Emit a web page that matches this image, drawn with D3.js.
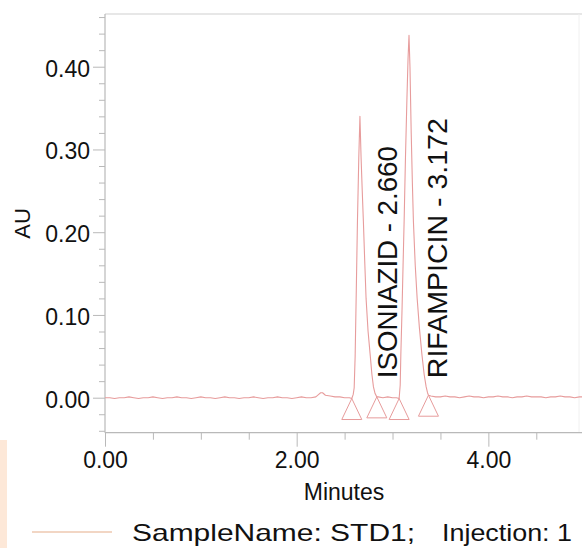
<!DOCTYPE html>
<html><head><meta charset="utf-8">
<script src="https://cdn.jsdelivr.net/npm/d3@7"></script>
<style>
body{margin:0;background:#fff}
svg{display:block}
text{font-family:"Liberation Sans",Arial,sans-serif;fill:#111}
</style>
</head><body><svg id="c" width="582" height="548"></svg>
<script>
// ---- data ----
const timeMin = [
  0.00,0.05,0.10,0.15,0.20,0.25,0.30,0.35,0.40,0.45,0.50,0.55,0.60,0.65,0.70,0.75,0.80,0.85,0.90,0.95,
  1.00,1.05,1.10,1.15,1.20,1.25,1.30,1.35,1.40,1.45,1.50,1.55,1.60,1.65,1.70,1.75,1.80,1.85,1.90,1.95,
  2.00,2.05,2.10,2.15,2.20,2.23,2.25,2.27,2.30,2.35,2.40,2.45,2.50,2.55,2.575,
  2.590,2.600,2.610,2.622,2.634,2.648,2.660,2.672,2.684,2.696,2.710,2.724,2.745,2.766,2.785,2.801,2.818,2.836,
  2.85,2.90,2.95,3.00,3.04,3.069,
  3.080,3.087,3.100,3.110,3.121,3.135,3.150,3.162,3.172,3.182,3.195,3.207,3.218,3.237,3.257,3.280,3.306,3.330,3.351,3.365,3.375,
  3.40,3.45,3.50,3.55,3.60,3.65,3.70,3.75,3.80,3.85,3.90,3.95,4.00,4.05,4.10,4.15,4.20,4.25,4.30,4.35,
  4.40,4.45,4.50,4.55,4.60,4.65,4.70,4.75,4.80,4.85,4.90,4.95,4.98
];
const absorbanceAU = [
  0.000,0.000,-0.001,0.000,0.000,0.001,0.000,-0.001,0.000,0.000,0.001,0.000,-0.001,0.000,0.000,0.001,0.000,0.000,-0.001,0.000,
  0.001,0.000,0.000,-0.001,0.000,0.001,0.000,0.000,-0.001,0.000,0.000,0.001,0.000,-0.001,0.000,0.000,0.001,0.000,0.000,-0.001,
  0.000,0.001,0.000,0.000,0.001,0.004,0.006,0.006,0.003,0.002,0.001,0.001,0.000,0.000,-0.001,
  0.004,0.012,0.050,0.130,0.213,0.290,0.340,0.290,0.250,0.213,0.165,0.120,0.080,0.053,0.028,0.013,0.005,0.001,
  0.001,0.000,0.001,0.000,0.000,-0.001,
  0.015,0.053,0.110,0.160,0.213,0.290,0.360,0.410,0.438,0.400,0.320,0.260,0.213,0.160,0.120,0.085,0.053,0.028,0.013,0.006,0.003,
  0.002,0.001,0.001,0.002,0.001,0.001,0.000,0.001,0.002,0.001,0.001,0.000,0.001,0.001,0.002,0.001,0.001,0.000,0.001,0.001,
  0.002,0.001,0.001,0.001,0.000,0.001,0.001,0.002,0.001,0.001,0.000,0.001,0.001
];
const peakNames = ["ISONIAZID - 2.660", "RIFAMPICIN - 3.172"];
const peakTimes = [2.660, 3.172];
const eventTimes = [2.575, 2.836, 3.069, 3.375];
const eventAU = [-0.001, 0.001, -0.001, 0.003];
const xMajorTicks = [0, 2, 4];
const xMinorTicks = [0.5, 1.0, 1.5, 2.5, 3.0, 3.5, 4.5];
const yMajorTicks = [0.00, 0.10, 0.20, 0.30, 0.40];
const yMinorTicks = [-0.04,-0.02,0.02,0.04,0.06,0.08,0.12,0.14,0.16,0.18,0.22,0.24,0.26,0.28,0.32,0.34,0.36,0.38,0.42,0.44,0.46];
const xTitle = "Minutes";
const yTitle = "AU";
const legendParts = ["SampleName: STD1;", "Injection: 1"];

// ---- layout ----
const svg = d3.select("#c");
const L = 105, R = 582, T = 14, B = 432.7;
const x = d3.scaleLinear().domain([0, 4.977]).range([L, R]);
const y = d3.scaleLinear().domain([-0.0423, 0.4637]).range([B, T]);
const sig = "#e79c9c";
const axisGrey = "#b9b9b9";

// left peach stripe artifact
svg.append("rect").attr("x",0).attr("y",440).attr("width",7).attr("height",108).attr("fill","#fde8d8");

// frame
svg.append("line").attr("x1",L).attr("x2",R).attr("y1",T).attr("y2",T).attr("stroke","#cfcfcf").attr("stroke-width",1.2);
svg.append("line").attr("x1",579).attr("x2",579).attr("y1",T).attr("y2",B).attr("stroke","#f0f0f0").attr("stroke-width",1);

// axes
function styleAxis(g){
  g.select(".domain").remove();
  g.selectAll(".tick line").attr("stroke",axisGrey).attr("stroke-width",1);
  g.selectAll(".tick text").attr("font-size",23).attr("fill","#111")
   .attr("font-family",'"Liberation Sans",Arial,sans-serif');
}
const gyMinor = svg.append("g").attr("transform",`translate(${L},0)`)
  .call(d3.axisLeft(y).tickValues(yMinorTicks).tickSize(6).tickFormat(""));
styleAxis(gyMinor);
const gy = svg.append("g").attr("transform",`translate(${L},0)`)
  .call(d3.axisLeft(y).tickValues(yMajorTicks).tickSize(12).tickPadding(3).tickFormat(d3.format(".2f")));
styleAxis(gy);
gy.selectAll(".tick text").attr("dy","0.41em");

const gxMinor = svg.append("g").attr("transform",`translate(0,${B})`)
  .call(d3.axisBottom(x).tickValues(xMinorTicks).tickSize(7).tickFormat(""));
styleAxis(gxMinor);
const gx = svg.append("g").attr("transform",`translate(0,${B})`)
  .call(d3.axisBottom(x).tickValues(xMajorTicks).tickSize(14).tickPadding(5).tickFormat(d3.format(".2f")));
styleAxis(gx);

svg.append("line").attr("x1",L).attr("x2",L).attr("y1",T).attr("y2",B).attr("stroke",axisGrey).attr("stroke-width",1.2);
svg.append("line").attr("x1",L).attr("x2",R).attr("y1",B).attr("y2",B).attr("stroke",axisGrey).attr("stroke-width",1.2);

// titles
svg.append("text").attr("x",344).attr("y",500).attr("text-anchor","middle").attr("font-size",23).text(xTitle);
svg.append("text").attr("transform",`translate(30,${(T+B)/2}) rotate(-90)`).attr("text-anchor","middle")
  .attr("font-size",22).text(yTitle);

// signal
const pts = timeMin.map((t,i)=>[t, absorbanceAU[i]]);
svg.append("path").datum(pts)
  .attr("d", d3.line().x(d=>x(d[0])).y(d=>y(d[1])))
  .attr("fill","none").attr("stroke",sig).attr("stroke-width",1.1).attr("stroke-linejoin","round");

// integration event triangles
svg.selectAll("path.tri").data(eventTimes).enter().append("path").attr("class","tri")
  .attr("d",(t,i)=>{const cx=x(t), cy=y(eventAU[i]); return `M${cx},${cy} L${cx-10},${cy+21} L${cx+10},${cy+21} Z`;})
  .attr("fill","none").attr("stroke",sig).attr("stroke-width",1);

// peak labels
const labelLens = [232, 260];
peakNames.forEach((name,i)=>{
  svg.append("text")
    .attr("transform",`translate(${x(peakTimes[i])+37.5},${y(0)-19.5}) rotate(-90)`)
    .attr("font-size",27).attr("textLength",labelLens[i]).attr("lengthAdjust","spacingAndGlyphs")
    .text(name);
});

// legend
svg.append("line").attr("x1",32).attr("x2",112).attr("y1",532).attr("y2",532).attr("stroke","#f2d6c4").attr("stroke-width",2);
svg.append("text").attr("x",132).attr("y",540.5).attr("font-size",24)
  .attr("textLength",283).attr("lengthAdjust","spacingAndGlyphs").text(legendParts[0]);
svg.append("text").attr("x",442).attr("y",540.5).attr("font-size",24)
  .attr("textLength",130).attr("lengthAdjust","spacingAndGlyphs").text(legendParts[1]);
</script>
</body></html>
